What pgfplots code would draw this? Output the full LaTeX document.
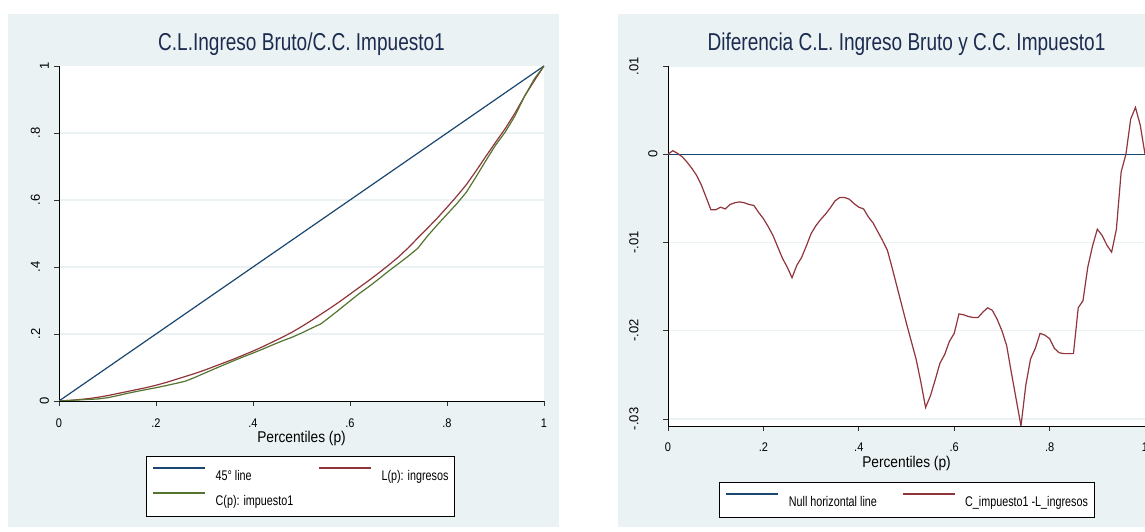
\documentclass[border=0pt]{standalone}
\usepackage{fontspec}
\setmainfont{Liberation Sans}
\newfontfamily\titlefont{Liberation Sans}[FakeStretch=0.78]
\newfontfamily\legfont{Liberation Sans}[FakeStretch=0.77]
\newfontfamily\labfont{Liberation Sans}[FakeStretch=0.88]
\newfontfamily\tickfont{Liberation Sans}[FakeStretch=0.88]
\newfontfamily\ytickfont{Liberation Sans}
\usepackage{graphicx}
\usepackage{pgfplots}
\usepackage{pgfplotstable}
\pgfplotsset{compat=1.18}

\definecolor{bg}{RGB}{234,242,243}
\definecolor{snavy}{RGB}{26,71,111}
\definecolor{smaroon}{RGB}{144,53,59}
\definecolor{sgreen}{RGB}{85,117,47}
\definecolor{stitle}{RGB}{28,43,80}

\pgfplotstableread{
p L C
0.00 0.0000 0.0000
0.02 0.0015 0.0016
0.04 0.0040 0.0031
0.06 0.0070 0.0046
0.08 0.0110 0.0061
0.10 0.0160 0.0097
0.12 0.0220 0.0158
0.14 0.0280 0.0225
0.16 0.0340 0.0285
0.18 0.0400 0.0342
0.20 0.0470 0.0397
0.22 0.0550 0.0458
0.24 0.0640 0.0522
0.26 0.0730 0.0590
0.28 0.0820 0.0703
0.30 0.0920 0.0830
0.32 0.1030 0.0956
0.34 0.1140 0.1079
0.36 0.1250 0.1201
0.38 0.1370 0.1319
0.40 0.1490 0.1430
0.42 0.1620 0.1549
0.44 0.1760 0.1672
0.46 0.1900 0.1791
0.48 0.2050 0.1900
0.50 0.2220 0.2028
0.52 0.2400 0.2168
0.54 0.2590 0.2303
0.56 0.2780 0.2524
0.58 0.2980 0.2753
0.60 0.3190 0.2987
0.62 0.3400 0.3218
0.64 0.3610 0.3425
0.66 0.3830 0.3651
0.68 0.4060 0.3883
0.70 0.4300 0.4100
0.72 0.4570 0.4322
0.74 0.4870 0.4562
0.76 0.5160 0.4928
0.78 0.5460 0.5257
0.80 0.5780 0.5571
0.82 0.6110 0.5885
0.84 0.6460 0.6234
0.86 0.6870 0.6696
0.88 0.7300 0.7172
0.90 0.7720 0.7635
0.92 0.8130 0.8027
0.94 0.8590 0.8505
0.96 0.9100 0.9100
0.98 0.9560 0.9613
1.00 1.0000 1.0000
}\lorenz

\pgfplotstableread{
p d
0.00 0.0000
0.01 0.0004
0.02 0.0001
0.03 -0.0003
0.04 -0.0009
0.05 -0.0016
0.06 -0.0024
0.07 -0.0035
0.08 -0.0049
0.09 -0.0063
0.10 -0.0063
0.11 -0.0060
0.12 -0.0062
0.13 -0.0057
0.14 -0.0055
0.15 -0.0054
0.16 -0.0055
0.17 -0.0057
0.18 -0.0058
0.19 -0.0066
0.20 -0.0073
0.21 -0.0082
0.22 -0.0092
0.23 -0.0105
0.24 -0.0118
0.25 -0.0128
0.26 -0.0140
0.27 -0.0126
0.28 -0.0117
0.29 -0.0104
0.30 -0.0090
0.31 -0.0081
0.32 -0.0074
0.33 -0.0068
0.34 -0.0061
0.35 -0.0053
0.36 -0.0049
0.37 -0.0049
0.38 -0.0051
0.39 -0.0056
0.40 -0.0060
0.41 -0.0062
0.42 -0.0071
0.43 -0.0078
0.44 -0.0088
0.45 -0.0098
0.46 -0.0109
0.47 -0.0129
0.48 -0.0150
0.49 -0.0171
0.50 -0.0192
0.51 -0.0212
0.52 -0.0232
0.53 -0.0258
0.54 -0.0287
0.55 -0.0274
0.56 -0.0256
0.57 -0.0237
0.58 -0.0227
0.59 -0.0212
0.60 -0.0203
0.61 -0.0181
0.62 -0.0182
0.63 -0.0184
0.64 -0.0185
0.65 -0.0185
0.66 -0.0179
0.67 -0.0174
0.68 -0.0177
0.69 -0.0187
0.70 -0.0200
0.71 -0.0217
0.72 -0.0248
0.73 -0.0278
0.74 -0.0308
0.75 -0.0262
0.76 -0.0232
0.77 -0.0220
0.78 -0.0203
0.79 -0.0205
0.80 -0.0209
0.81 -0.0220
0.82 -0.0225
0.83 -0.0226
0.84 -0.0226
0.85 -0.0226
0.86 -0.0174
0.87 -0.0166
0.88 -0.0128
0.89 -0.0104
0.90 -0.0085
0.91 -0.0092
0.92 -0.0103
0.93 -0.0111
0.94 -0.0085
0.95 -0.0020
0.96 0.0000
0.97 0.0040
0.98 0.0053
0.99 0.0033
1.00 0.0000
}\diff

\pgfplotsset{
  statastyle/.style={
    scale only axis, enlargelimits=false,
    axis x line*=bottom, axis y line*=left,
    axis line style={black, line width=0.9pt},
    tick align=outside, major tick length=5pt,
    tick style={black!80, line width=0.8pt},
    axis background/.style={fill=white},
    ymajorgrids, major grid style={bg, line width=1.2pt},
    scaled y ticks=false, scaled x ticks=false,
    xtick={0,0.2,0.4,0.6,0.8,1}, xticklabels={0,.2,.4,.6,.8,1},
    xticklabel style={font=\tickfont\fontsize{12.5}{13}\selectfont, anchor=base, inner sep=0pt, yshift=-21pt},
    yticklabel style={font=\ytickfont\fontsize{13}{13}\selectfont, anchor=center, inner sep=0pt},
    title style={font=\titlefont\fontsize{24.4}{28}\selectfont, text=stitle, at={(axis description cs:0.5,1)}, anchor=base, yshift=9pt},
    every axis x label/.style={at={(axis description cs:0.5,0)}, anchor=base, yshift=-42pt, font=\labfont\fontsize{15.6}{18}\selectfont},
    legend columns=2,
    legend cell align=left,
    legend style={draw=black, line width=0.9pt, fill=white, inner xsep=6pt, inner ysep=8pt,
      font=\legfont\fontsize{14}{16}\selectfont,
      nodes={inner sep=0pt, text height=16pt, text depth=3pt},
      column sep=10pt, row sep=6pt,
      /tikz/every even column/.append style={column sep=25pt}},
    legend image code/.code={\draw[#1] (0pt,6pt) -- (52pt,6pt);},
  }
}

\begin{document}
\begin{tikzpicture}
\useasboundingbox (0pt,0pt) rectangle (1145pt,532pt);
\fill[bg] (8pt,5pt) rectangle (559pt,518pt);
\fill[bg] (618pt,5pt) rectangle (1200pt,518pt);

\begin{axis}[statastyle, at={(59pt,131pt)}, anchor=south west,
  width=485pt, height=335pt, xmin=0, xmax=1, ymin=0, ymax=1,
  ytick={0.2,0.4,0.6,0.8},
  yticklabels={\rotatebox{90}{.2},\rotatebox{90}{.4},\rotatebox{90}{.6},\rotatebox{90}{.8}},
  yticklabel style={xshift=-18.5pt},
  extra y ticks={0,1},
  extra y tick labels={\rotatebox{90}{0},\rotatebox{90}{1}},
  extra y tick style={ymajorgrids=false, yticklabel style={xshift=9pt}},
  title={C.L.Ingreso Bruto/C.C. Impuesto1},
  xlabel={Percentiles (p)},
  legend style={at={(0.1794,-0.1642)}, anchor=north west}]
\addplot[snavy, line width=1.2pt] coordinates {(0,0) (1,1)};
\addlegendentry{45° line}
\addplot[smaroon, line width=1.2pt] table[x=p, y=L] {\lorenz};
\addlegendentry{L(p): ingresos}
\addplot[sgreen, line width=1.2pt] table[x=p, y=C] {\lorenz};
\addlegendentry{C(p): impuesto1}
\end{axis}

\begin{axis}[statastyle, at={(668pt,106pt)}, anchor=south west,
  width=477pt, height=360pt, xmin=0, xmax=1, ymin=-0.0308, ymax=0.01,
  ytick={-0.03,-0.02,-0.01,0.01},
  yticklabels={\rotatebox{90}{-.03},\rotatebox{90}{-.02},\rotatebox{90}{-.01},\rotatebox{90}{.01}},
  yticklabel style={xshift=-29pt},
  extra y ticks={0},
  extra y tick labels={\rotatebox{90}{0}},
  extra y tick style={ymajorgrids=false, yticklabel style={xshift=19pt}},
  title={Diferencia C.L. Ingreso Bruto y C.C. Impuesto1},
  xlabel={Percentiles (p)},
  legend style={at={(0.1069,-0.1556)}, anchor=north west}]
\addplot[snavy, line width=1.4pt] coordinates {(0,0) (1,0)};
\addlegendentry{Null horizontal line}
\addplot[smaroon, line width=1.2pt] table[x=p, y=d] {\diff};
\addlegendentry{C\_impuesto1 -L\_ingresos}
\end{axis}
\end{tikzpicture}
\end{document}
